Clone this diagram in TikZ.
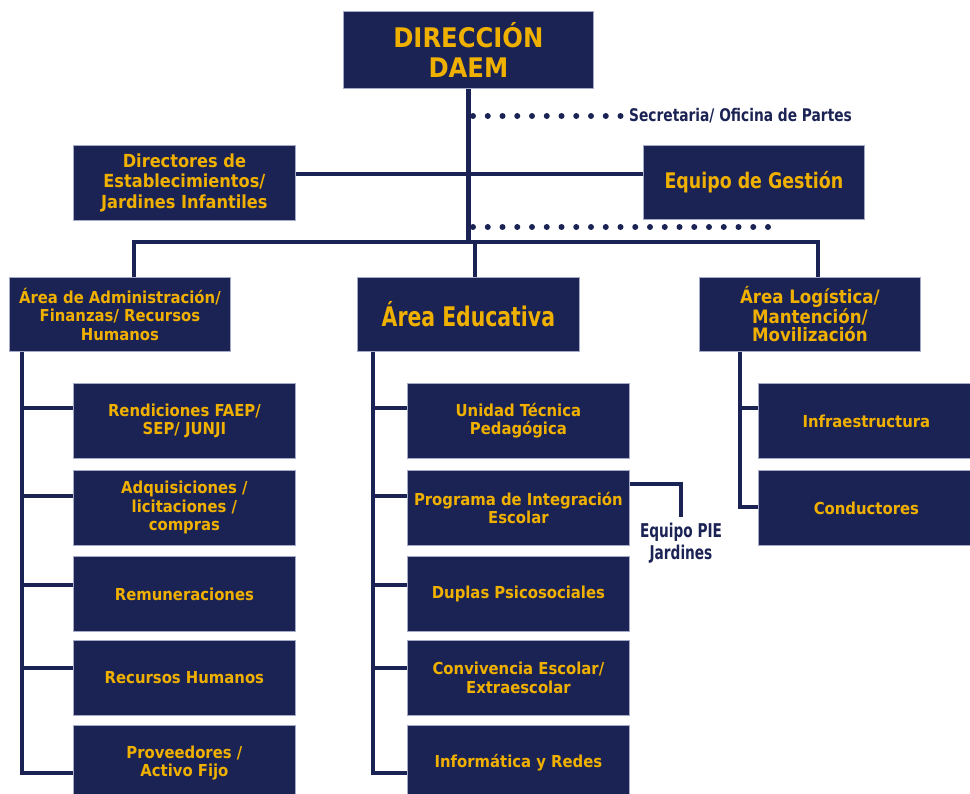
\documentclass[tikz,border=0pt]{standalone}
\usepackage{fontspec}
\IfFontExistsTF{DejaVu Sans Condensed}{\setmainfont{DejaVu Sans Condensed}}{\setmainfont{DejaVu Sans}[FakeStretch=0.9]}
\definecolor{navy}{RGB}{27,35,84}
\definecolor{gold}{RGB}{240,176,0}
\definecolor{edgec}{RGB}{165,170,198}
\newcommand{\fsz}[2]{\fontsize{#1}{#2}\selectfont\bfseries}
\tikzset{
  box/.style={rectangle, fill=navy, draw=edgec, line width=0.8pt, text=gold,
    align=center, inner sep=0pt, anchor=north west},
  chbox/.style={box, minimum width=222pt, minimum height=75pt, font=\fsz{16.5}{18.5}},
  conn/.style={draw=navy, line width=4.3pt, line join=miter},
  dotline/.style={draw=navy, line width=6pt, line cap=round, dash pattern=on 0pt off 14.75pt},
  lbl/.style={text=navy, align=center, inner sep=0pt}
}
\begin{document}
\begin{tikzpicture}[x=1pt,y=-1pt]
\useasboundingbox (0,0) rectangle (970,794);
% top level
\node[box, minimum width=250pt, minimum height=77pt, font=\fsz{27}{30}] (dir) at (343,11) {DIRECCIÓN\\DAEM};
\node[lbl, anchor=west, font=\fsz{17.4}{20}] (sec) at (629,116) {\scalebox{0.88}[1]{Secretaria/ Oficina de Partes}};
\node[box, minimum width=222pt, minimum height=75pt, font=\fsz{18}{20.5}] (dire) at (73,145) {Directores de\\Establecimientos/\\Jardines Infantiles};
\node[box, minimum width=221pt, minimum height=74pt, font=\fsz{21.5}{24}] (equipo) at (643,145) {\scalebox{0.9}[1]{Equipo de Gestión}};
% areas
\node[box, minimum width=221pt, minimum height=74pt, font=\fsz{16.5}{18.5}] (admin) at (9,277) {Área de Administración/\\Finanzas/ Recursos\\Humanos};
\node[box, minimum width=222pt, minimum height=74pt, font=\fsz{27}{30}] (edu) at (357,277) {\scalebox{0.84}[1]{Área Educativa}};
\node[box, minimum width=221pt, minimum height=74pt, font=\fsz{18.5}{18.5}] (log) at (699,277) {Área Logística/\\Mantención/\\Movilización};
% admin children
\node[chbox] (a1) at (73,383) {Rendiciones FAEP/\\SEP/ JUNJI};
\node[chbox] (a2) at (73,470) {Adquisiciones /\\licitaciones /\\compras};
\node[chbox] (a3) at (73,556) {Remuneraciones};
\node[chbox] (a4) at (73,640) {Recursos Humanos};
\node[chbox] (a5) at (73,725) {Proveedores /\\Activo Fijo};
% edu children
\node[chbox] (e1) at (407,383) {Unidad Técnica\\Pedagógica};
\node[chbox] (e2) at (407,470) {Programa de Integración\\Escolar};
\node[chbox] (e3) at (407,556) {Duplas Psicosociales};
\node[chbox] (e4) at (407,640) {Convivencia Escolar/\\Extraescolar};
\node[chbox] (e5) at (407,725) {Informática y Redes};
% log children
\node[chbox, minimum width=216pt] (l1) at (758,383) {Infraestructura};
\node[chbox, minimum width=216pt] (l2) at (758,470) {Conductores};
% PIE label
\node[lbl, anchor=north, inner ysep=6pt, font=\fsz{19}{22}] (pie) at (681,517) {\scalebox{0.8}[1]{Equipo PIE}\\\scalebox{0.8}[1]{Jardines}};

% coordinates
\coordinate (busL) at (134,242);
\coordinate (busM) at (475,242);
\coordinate (busR) at (818,242);
\coordinate (h174) at (0,174);
\coordinate (aV) at (22,0);
\coordinate (eV) at (373,0);
\coordinate (lV) at (740,0);
\coordinate (s0) at (473,116);
\coordinate (d0) at (473,227);
\coordinate (d1) at (768,227);

% connectors
\draw[conn] (dir.south) -- (dir.south |- busL);
\draw[conn] (busL |- admin.north) -- (busL) -- (busR) -- (busR |- log.north);
\draw[conn] (busM) -- (busM |- edu.north);
\draw[conn] (dire.east |- h174) -- (equipo.west |- h174);
\draw[dotline] (s0) -- ([xshift=-6pt]sec.west);
\draw[dotline] (d0) -- (d1);

% admin branch
\draw[conn] (aV |- admin.south) -- (aV |- a5.north west) -- ([yshift=-48pt]aV |- a5.north west) -- ([yshift=-48pt]a5.north west);
\foreach \n/\o in {a1/25,a2/26,a3/29,a4/28}
  \draw[conn] ([yshift=-\o pt]aV |- \n.north west) -- ([yshift=-\o pt]\n.north west);
% edu branch
\draw[conn] (eV |- edu.south) -- (eV |- e5.north west) -- ([yshift=-48pt]eV |- e5.north west) -- ([yshift=-48pt]e5.north west);
\foreach \n/\o in {e1/25,e2/26,e3/29,e4/28}
  \draw[conn] ([yshift=-\o pt]eV |- \n.north west) -- ([yshift=-\o pt]\n.north west);
% log branch
\draw[conn] (lV |- log.south) -- (lV |- l2.north west) -- ([yshift=-37pt]lV |- l2.north west) -- ([yshift=-37pt]l2.north west);
\draw[conn] ([yshift=-25pt]lV |- l1.north west) -- ([yshift=-25pt]l1.north west);
% PIE
\draw[conn] ([yshift=-14pt]e2.north east) -| (pie.north);
\end{tikzpicture}
\end{document}
